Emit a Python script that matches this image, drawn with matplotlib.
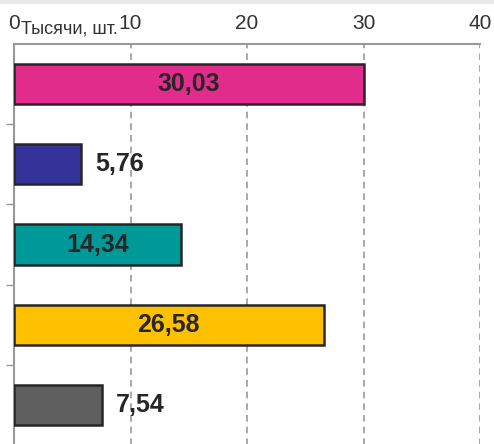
import matplotlib.pyplot as plt
from matplotlib.patches import Rectangle

# Bar values, top to bottom (thousands of units)
values = [30.03, 5.76, 14.34, 26.58, 7.54]
labels = ["30,03", "5,76", "14,34", "26,58", "7,54"]
colors = ["#E22C8C", "#333399", "#009999", "#FFC000", "#5F5F5F"]
xticks = [0, 10, 20, 30, 40]

plt.rcParams["font.family"] = ["Liberation Sans", "DejaVu Sans"]

fig = plt.figure(figsize=(4.94, 4.44), dpi=100)
ax = fig.add_axes([14 / 494, -1 / 444, 466 / 494, 401 / 444])

# faint shadow band at the very top of the picture
fig.patches.append(Rectangle((0, 1 - 4 / 444), 1, 4 / 444, transform=fig.transFigure,
                             facecolor="#E9E9E9", edgecolor="none"))

pos = list(range(len(values)))
ax.barh(pos, values, height=0.5, color=colors, edgecolor="#262626", linewidth=1.8, zorder=3)

# value labels: inside for long bars, outside for short ones
for y, v, txt in zip(pos, values, labels):
    if v > 10:
        ax.text(v / 2, y, txt, ha="center", va="center", fontsize=18,
                fontweight="bold", color="#262626", zorder=4)
    else:
        ax.annotate(txt, (v, y), xytext=(10, 0), textcoords="offset points",
                    ha="left", va="center", fontsize=18, fontweight="bold",
                    color="#262626", zorder=4)

ax.set_xlim(0, 40)
ax.set_ylim(len(values) - 0.5, -0.5)
ax.xaxis.tick_top()
ax.set_xticks(xticks)
ax.tick_params(axis="x", length=0, pad=8, labelsize=15, labelcolor="#333333")
ax.set_yticks([0.5, 1.5, 2.5, 3.5])
ax.set_yticklabels([])
ax.tick_params(axis="y", length=6, width=1, color="#999999", direction="out")

ax.grid(axis="x", linestyle=(0, (4, 3)), color="#999999", linewidth=1.2, zorder=0)
for s in ["right", "bottom"]:
    ax.spines[s].set_visible(False)
for s in ["top", "left"]:
    ax.spines[s].set_color("#999999")
    ax.spines[s].set_linewidth(1.5)

fig.text(21 / 494, 1 - 33 / 444, "Тысячи, шт.", fontsize=13, color="#333333",
         ha="left", va="baseline")

fig.savefig("out.png", dpi=100)
